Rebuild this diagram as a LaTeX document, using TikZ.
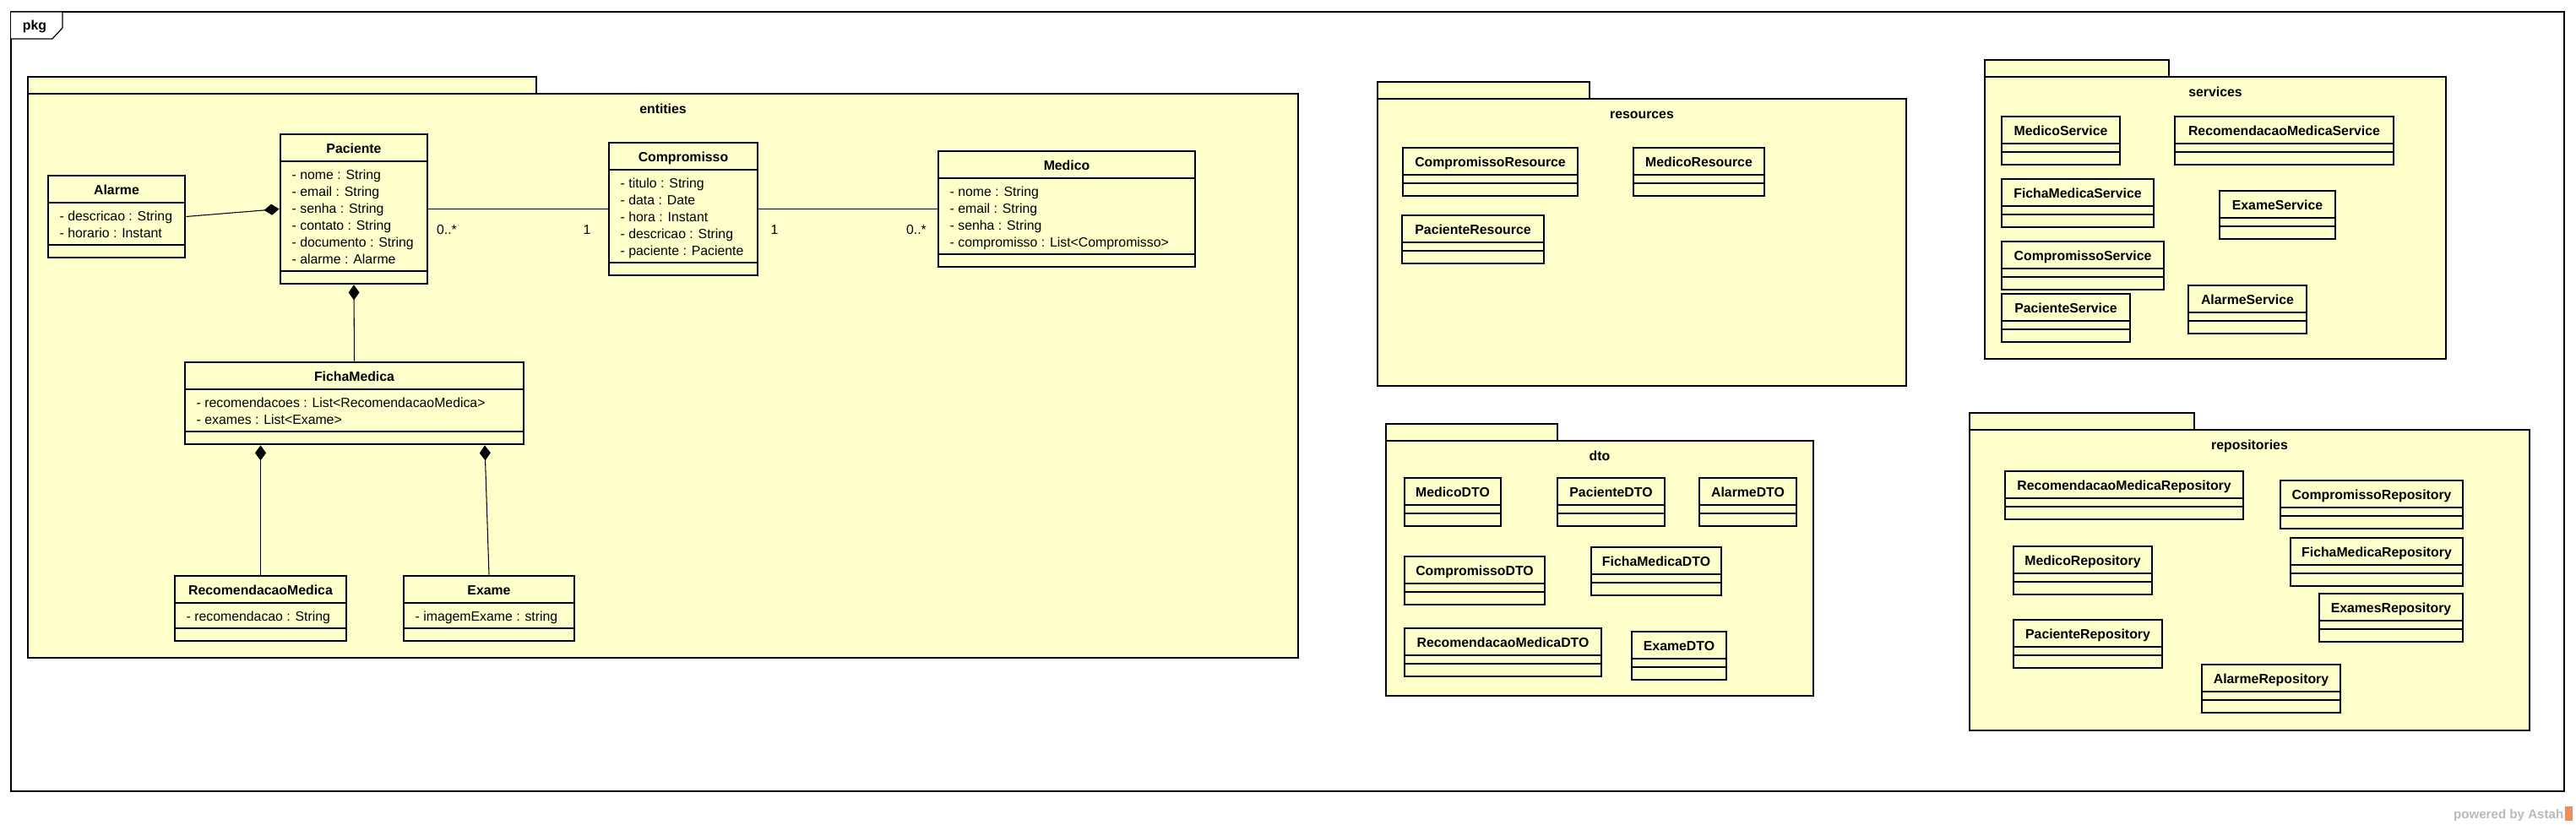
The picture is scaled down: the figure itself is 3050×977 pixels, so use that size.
\documentclass[tikz,border=0pt]{standalone}
\usepackage{fontspec}
\setmainfont{Liberation Sans}
\usetikzlibrary{arrows.meta,calc,fit}
\definecolor{classfill}{RGB}{255,255,204}
\definecolor{astahgray}{RGB}{185,185,185}
\definecolor{astahorange}{RGB}{238,140,90}
\newcommand{\umlfont}{\fontsize{4.5pt}{5.7pt}\selectfont}
\tikzset{
    classbox/.style={draw, fill=classfill, line width=0.8pt, inner sep=0pt},
    pkgline/.style={draw, fill=classfill, line width=0.8pt},
    sepline/.style={line width=0.35pt},
    classname/.style={font=\umlfont\bfseries, anchor=base, inner sep=0pt},
    attr/.style={font=\umlfont, anchor=base west, inner sep=0pt},
    mult/.style={font=\umlfont, anchor=base, inner sep=0pt},
    assoc/.style={line width=0.3pt},
    comp/.style={line width=0.3pt, -{Diamond[length=0.18cm, width=0.13cm]}},
}
\newcommand{\umlclass}[7]{%
    \node[classbox, fit={(#2,#3) (#4,#3+57+20*#5)}] (#1) {};
    \draw[sepline] (#2,#3+32) -- (#4,#3+32);
    \draw[sepline] (#2,#3+42+20*#5) -- (#4,#3+42+20*#5);
    \node[classname] (#1-title) at ({(#2+#4)/2},#3+23) {#6};
    \ifnum#5>0
        \foreach \a [count=\i from 0] in {#7} {
            \node[attr] (#1-a\i) at (#2+13,#3+54+20*\i) {\a};
        }
    \fi
}
\newcommand{\umlpkg}[7]{%
    \draw[pkgline] (#2,#3) rectangle (#4,#3+20);
    \node[classbox, fit={(#2,#3+20) (#5,#6)}] (#1) {};
    \node[classname] (#1-label) at ({(#2+#5)/2},#3+44) {#7};
}
\begin{document}
\begin{tikzpicture}[x=0.01cm, y=-0.01cm]
    \useasboundingbox (0,0) rectangle (3050,977);
    \draw[line width=0.35pt] (13,14) rectangle (3036,937);
    \draw[line width=0.35pt, fill=white] (13,14) -- (74,14) -- (74,33) -- (62,46) -- (13,46);
    \node[classname] (pkg) at (41,36) {pkg};

    \umlpkg{entities}{33}{91}{635}{1537}{779}{entities}
    \umlpkg{resources}{1631}{97}{1882}{2257}{457}{resources}
    \umlpkg{services}{2350}{71}{2568}{2896}{425}{services}
    \umlpkg{dto}{1641}{502}{1844}{2147}{824}{dto}
    \umlpkg{repositories}{2332}{489}{2598}{2995}{865}{repositories}

    \umlclass{alarme}{57}{208}{219}{2}{Alarme}{- descricao : String, - horario : Instant}
    \umlclass{paciente}{332}{159}{506}{6}{Paciente}{- nome : String, - email : String, - senha : String, - contato : String, - documento : String, - alarme : Alarme}
    \umlclass{compromisso}{721}{169}{897}{5}{Compromisso}{- titulo : String, - data : Date, - hora : Instant, - descricao : String, - paciente : Paciente}
    \umlclass{medico}{1111}{179}{1415}{4}{Medico}{- nome : String, - email : String, - senha : String, - compromisso : List<Compromisso>}
    \umlclass{fichamedica}{219}{429}{620}{2}{FichaMedica}{- recomendacoes : List<RecomendacaoMedica>, - exames : List<Exame>}
    \umlclass{recomendacao}{207}{682}{410}{1}{RecomendacaoMedica}{- recomendacao : String}
    \umlclass{exame}{478}{682}{680}{1}{Exame}{- imagemExame : string}

    \draw[assoc] (paciente.east) -- (compromisso.west);
    \draw[assoc] (compromisso.east) -- (medico.west);
    \node[mult] (m1) at (529,278) {0..*};
    \node[mult] (m2) at (695,278) {1};
    \node[mult] (m3) at (917,278) {1};
    \node[mult] (m4) at (1085,278) {0..*};
    \draw[comp] (alarme.east) -- (paciente.west);
    \draw[comp] (fichamedica.north) -- (paciente.south);
    \draw[comp] (recomendacao.north) -- (recomendacao.north |- fichamedica.south);
    \draw[comp] (exame.north) -- ($(exame.north |- fichamedica.south)+(-5,0)$);

    \umlclass{compromissoresource}{1661}{175}{1868}{0}{CompromissoResource}{}
    \umlclass{medicoresource}{1934}{175}{2089}{0}{MedicoResource}{}
    \umlclass{pacienteresource}{1660}{255}{1828}{0}{PacienteResource}{}

    \umlclass{medicoservice}{2370}{138}{2510}{0}{MedicoService}{}
    \umlclass{recomendacaoservice}{2575}{138}{2834}{0}{RecomendacaoMedicaService}{}
    \umlclass{fichamedicaservice}{2370}{212}{2550}{0}{FichaMedicaService}{}
    \umlclass{exameservice}{2628}{226}{2765}{0}{ExameService}{}
    \umlclass{compromissoservice}{2370}{286}{2562}{0}{CompromissoService}{}
    \umlclass{pacienteservice}{2370}{348}{2522}{0}{PacienteService}{}
    \umlclass{alarmeservice}{2591}{338}{2731}{0}{AlarmeService}{}

    \umlclass{medicodto}{1663}{566}{1777}{0}{MedicoDTO}{}
    \umlclass{pacientedto}{1844}{566}{1971}{0}{PacienteDTO}{}
    \umlclass{alarmedto}{2012}{566}{2127}{0}{AlarmeDTO}{}
    \umlclass{compromissodto}{1663}{659}{1829}{0}{CompromissoDTO}{}
    \umlclass{fichamedicadto}{1884}{648}{2038}{0}{FichaMedicaDTO}{}
    \umlclass{recomendacaodto}{1663}{744}{1896}{0}{RecomendacaoMedicaDTO}{}
    \umlclass{examedto}{1932}{748}{2044}{0}{ExameDTO}{}

    \umlclass{recomendacaorepo}{2374}{558}{2656}{0}{RecomendacaoMedicaRepository}{}
    \umlclass{compromissorepo}{2700}{569}{2916}{0}{CompromissoRepository}{}
    \umlclass{medicorepo}{2384}{647}{2548}{0}{MedicoRepository}{}
    \umlclass{fichamedicarepo}{2712}{637}{2916}{0}{FichaMedicaRepository}{}
    \umlclass{examesrepo}{2746}{703}{2916}{0}{ExamesRepository}{}
    \umlclass{pacienterepo}{2384}{734}{2560}{0}{PacienteRepository}{}
    \umlclass{alarmerepo}{2607}{787}{2771}{0}{AlarmeRepository}{}

    \node[anchor=base east, inner sep=0pt, text=astahgray, font=\fontsize{4.3pt}{5pt}\selectfont\bfseries] (powered) at (3036,970) {powered by Astah};
    \fill[astahorange] (3037,955) rectangle (3046,972);
\end{tikzpicture}
\end{document}
